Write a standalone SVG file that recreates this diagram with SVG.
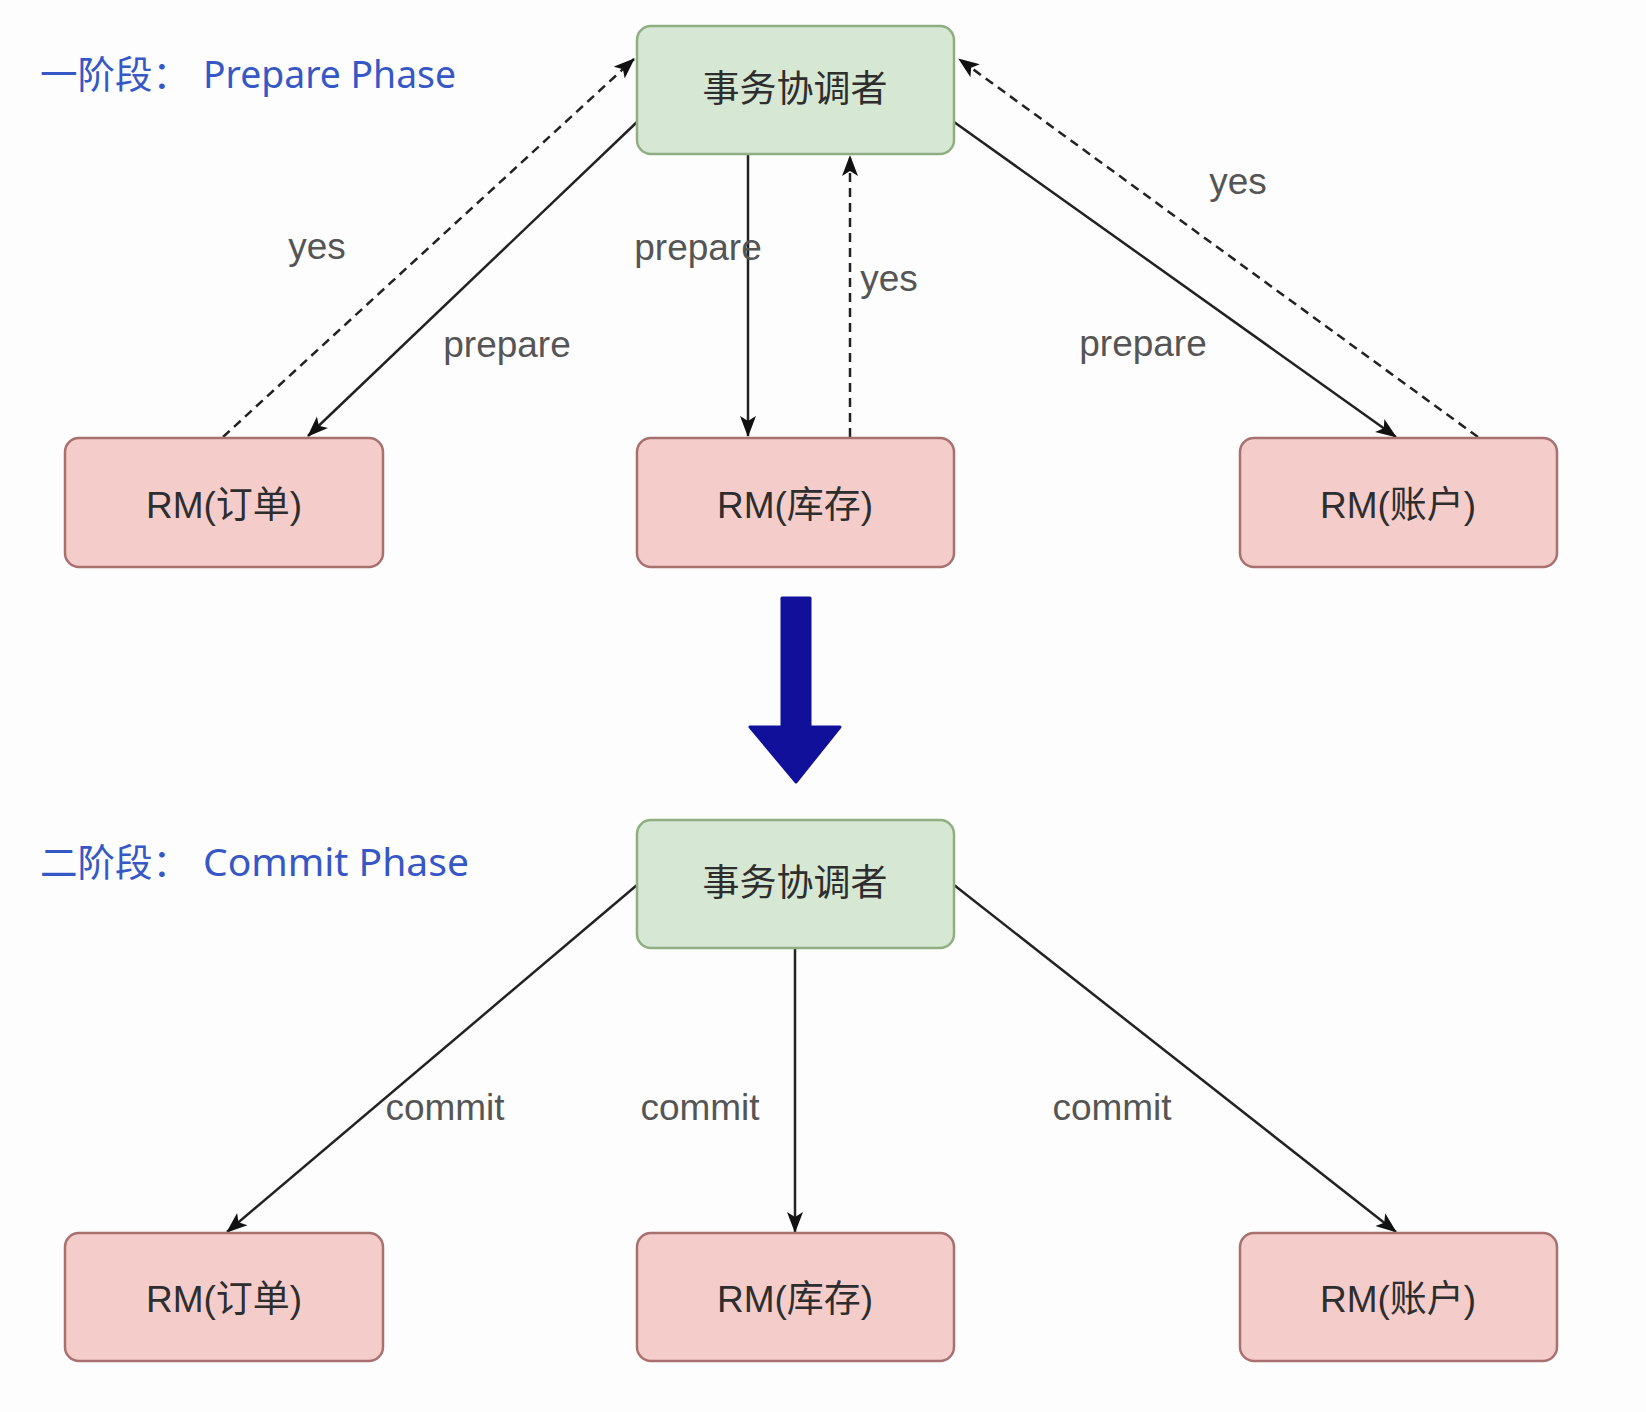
<svg xmlns="http://www.w3.org/2000/svg" width="1646" height="1412" viewBox="0 0 1646 1412">
<style>
.coord{fill:#d6e7d3;stroke:#8fae82;stroke-width:2.5}
.rm{fill:#f4cdcb;stroke:#a8716f;stroke-width:2.5}
.nt{font-family:"Liberation Sans","Noto Sans CJK SC",sans-serif;font-size:37px;fill:#2e2e2e;text-anchor:middle}
.lbl{font-family:"Liberation Sans",sans-serif;font-size:37px;fill:#555;text-anchor:middle}
.title{font-family:"Noto Sans","Noto Sans CJK SC",sans-serif;font-size:37.5px;fill:#3657c6}
.solid{stroke:#222;stroke-width:2.5;fill:none}
.dash{stroke:#222;stroke-width:2.5;fill:none;stroke-dasharray:9 6}
</style>
<defs>
<marker id="ah" markerUnits="userSpaceOnUse" markerWidth="22" markerHeight="18" viewBox="0 0 22 18" refX="20" refY="9" orient="auto">
<path d="M0,1 L21,9 L0,17 L5,9 Z" fill="#111"/>
</marker>
</defs>
<rect width="1646" height="1412" fill="#fdfdfd"/>

<text class="title" x="40" y="88">一阶段：<tspan x="203" textLength="253" lengthAdjust="spacingAndGlyphs">Prepare Phase</tspan></text>
<text class="title" x="40" y="876">二阶段：<tspan x="203" textLength="266" lengthAdjust="spacingAndGlyphs">Commit Phase</tspan></text>

<g id="connectors">
<line class="solid" x1="637" y1="122" x2="308" y2="436" marker-end="url(#ah)"/>
<line class="dash" x1="223" y1="437" x2="634" y2="59" marker-end="url(#ah)"/>
<line class="solid" x1="748" y1="154" x2="748" y2="436" marker-end="url(#ah)"/>
<line class="dash" x1="850" y1="437" x2="850" y2="156" marker-end="url(#ah)"/>
<line class="solid" x1="954" y1="122" x2="1396" y2="437" marker-end="url(#ah)"/>
<line class="dash" x1="1478" y1="437" x2="959" y2="59" marker-end="url(#ah)"/>
<line class="solid" x1="637" y1="885" x2="227" y2="1232" marker-end="url(#ah)"/>
<line class="solid" x1="795" y1="948" x2="795" y2="1232" marker-end="url(#ah)"/>
<line class="solid" x1="954" y1="885" x2="1396" y2="1232" marker-end="url(#ah)"/>
<text class="lbl" x="317" y="259">yes</text>
<text class="lbl" x="507" y="357">prepare</text>
<text class="lbl" x="698" y="260">prepare</text>
<text class="lbl" x="889" y="291">yes</text>
<text class="lbl" x="1238" y="194">yes</text>
<text class="lbl" x="1143" y="356">prepare</text>
<text class="lbl" x="445" y="1120">commit</text>
<text class="lbl" x="700" y="1120">commit</text>
<text class="lbl" x="1112" y="1120">commit</text>
</g>

<g id="phase-arrow">
<path d="M782,598 L810,598 L810,727 L840,727 L796,782 L750,727 L782,727 Z" fill="#10109a" stroke="#10109a" stroke-width="3" stroke-linejoin="round"/>
</g>

<g id="coord1"><rect class="coord" x="637" y="26" width="317" height="128" rx="14"/><text class="nt" x="795" y="102">事务协调者</text></g>
<g id="rm-order1"><rect class="rm" x="65" y="438" width="318" height="129" rx="14"/><text class="nt" x="224" y="518">RM(订单)</text></g>
<g id="rm-stock1"><rect class="rm" x="637" y="438" width="317" height="129" rx="14"/><text class="nt" x="795" y="518">RM(库存)</text></g>
<g id="rm-account1"><rect class="rm" x="1240" y="438" width="317" height="129" rx="14"/><text class="nt" x="1398" y="518">RM(账户)</text></g>

<g id="coord2"><rect class="coord" x="637" y="820" width="317" height="128" rx="14"/><text class="nt" x="795" y="896">事务协调者</text></g>
<g id="rm-order2"><rect class="rm" x="65" y="1233" width="318" height="128" rx="14"/><text class="nt" x="224" y="1312">RM(订单)</text></g>
<g id="rm-stock2"><rect class="rm" x="637" y="1233" width="317" height="128" rx="14"/><text class="nt" x="795" y="1312">RM(库存)</text></g>
<g id="rm-account2"><rect class="rm" x="1240" y="1233" width="317" height="128" rx="14"/><text class="nt" x="1398" y="1312">RM(账户)</text></g>
</svg>
